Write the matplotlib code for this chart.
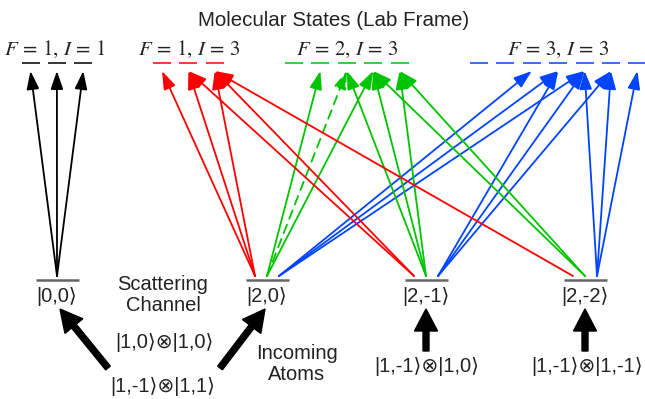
import matplotlib
matplotlib.use("Agg")
import matplotlib.pyplot as plt
from matplotlib.patches import FancyArrowPatch

plt.rcParams["mathtext.fontset"] = "stix"
SANS = ["Liberation Sans", "DejaVu Sans"]

# ---- molecular (lab frame) manifolds ----
group_labels = [r"$F\,=\,1,\,I\,=\,1$", r"$F\,=\,1,\,I\,=\,3$",
                r"$F\,=\,2,\,I\,=\,3$", r"$F\,=\,3,\,I\,=\,3$"]
group_F = [1, 1, 2, 3]
group_colors = ["black", "#ff0000", "#00c400", "#0044ff"]

# ---- scattering channels ----
channel_labels = ["|0,0\u27e9", "|2,0\u27e9", "|2,-1\u27e9", "|2,-2\u27e9"]
channel_m = [0, 0, -1, -2]

# ---- couplings: (channel, manifold, target m, forbidden) ----
couplings = [
    (0, 0, 1, False), (0, 0, 0, False), (0, 0, -1, False),
    (1, 1, 1, False), (1, 1, 0, False), (1, 1, -1, False),
    (1, 2, 1, False), (1, 2, 0, True), (1, 2, -1, False),
    (1, 3, 1, False), (1, 3, 0, False), (1, 3, -1, False),
    (2, 1, 0, False), (2, 1, -1, False),
    (2, 2, 0, False), (2, 2, -1, False), (2, 2, -2, False),
    (2, 3, 0, False), (2, 3, -1, False), (2, 3, -2, False),
    (3, 1, -1, False),
    (3, 2, -1, False), (3, 2, -2, False),
    (3, 3, -1, False), (3, 3, -2, False), (3, 3, -3, False),
]

# ---- incoming atom pairs ----
incoming_labels = ["|1,-1\u27e9\u2297|1,1\u27e9", "|1,-1\u27e9\u2297|1,1\u27e9",
                   "|1,-1\u27e9\u2297|1,0\u27e9", "|1,-1\u27e9\u2297|1,-1\u27e9"]
incoming_target = [0, 1, 2, 3]

# layout (pixel units)
group_x0 = [30.5, 162, 294, 479]
sublevel_step = 26.4
dash_len = 18
top_y = 63
tip_y = 71
channel_x = [57, 267, 426, 585]
bottom_y = 280
start_y = 276
color_offset = [0, -12, 0, 12]

fig = plt.figure(figsize=(6.45, 3.99), dpi=100)
ax = fig.add_axes([0, 0, 1, 1])
ax.set_xlim(0, 645)
ax.set_ylim(399, 0)
ax.axis("off")


def level_x(g, m):
    return group_x0[g] + (group_F[g] - m) * sublevel_step


# top sublevels
for g, F in enumerate(group_F):
    for m in range(F, -F - 1, -1):
        x = level_x(g, m)
        ax.plot([x - dash_len / 2, x + dash_len / 2], [top_y, top_y],
                color=group_colors[g], lw=1.1, solid_capstyle="butt", zorder=2)

label_cx = [55, 189, 347, 558]
for g, lab in enumerate(group_labels):
    ax.text(label_cx[g], 49.5, lab, ha="center", va="center", fontsize=15,
            color="#222222", zorder=3)

ax.text(334, 21, "Molecular States (Lab Frame)", ha="center", va="center",
        fontsize=14.8, family=SANS, color="#222222")

# couplings
for ch, g, m, forbidden in couplings:
    x0 = channel_x[ch] + color_offset[g]
    x1 = level_x(g, m)
    arr = FancyArrowPatch((x0, start_y), (x1, tip_y),
                          arrowstyle="-|>,head_length=11,head_width=3.8",
                          mutation_scale=1, shrinkA=0, shrinkB=0,
                          color=group_colors[g], lw=1.3,
                          linestyle=(0, (5, 3.5)) if forbidden else "-",
                          zorder=4)
    ax.add_patch(arr)

# scattering channel levels
for i, lab in enumerate(channel_labels):
    x = channel_x[i]
    ax.plot([x - 21.5, x + 21.5], [bottom_y, bottom_y], color="#666666",
            lw=1.8, solid_capstyle="butt", zorder=5)
    ax.text(x, 297, lab, ha="center", va="center", fontsize=14.5,
            family=SANS, color="#222222")

# incoming atom arrows
incoming_tail = [(108, 368), (220, 368), (426, 351), (585, 351)]
incoming_tip = [(60, 309), (265, 309), (426, 309), (585, 309)]
for (xt, yt), (xh, yh) in zip(incoming_tail, incoming_tip):
    ax.arrow(xt, yt, xh - xt, yh - yt, width=6, head_width=23, head_length=22,
             length_includes_head=True, color="black", zorder=6)

ax.text(163, 387, incoming_labels[0], ha="center", va="center", fontsize=14.5,
        family=SANS, color="#222222")
ax.text(427, 367, incoming_labels[2], ha="center", va="center", fontsize=14.5,
        family=SANS, color="#222222")
ax.text(587, 367, incoming_labels[3], ha="center", va="center", fontsize=14.5,
        family=SANS, color="#222222")
ax.text(164, 342, "|1,0\u27e9\u2297|1,0\u27e9", ha="center", va="center",
        fontsize=14.5, family=SANS, color="#222222")

ax.text(163, 295, "Scattering\nChannel", ha="center", va="center", fontsize=14.5,
        family=SANS, color="#222222", linespacing=1.1)
ax.text(297, 364, "Incoming\nAtoms", ha="center", va="center", fontsize=14.5,
        family=SANS, color="#222222", linespacing=1.1)

fig.savefig("out.png", dpi=100)
